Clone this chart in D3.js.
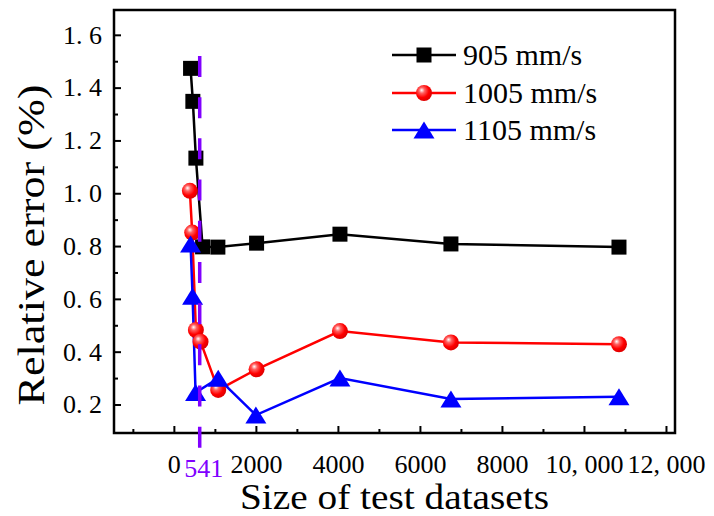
<!DOCTYPE html>
<html>
<head>
<meta charset="utf-8">
<script src="https://cdn.jsdelivr.net/npm/d3@7"></script>
<style>
  html, body { margin: 0; padding: 0; background: #fff; }
  svg { display: block; }
  text { font-family: "Liberation Serif", "Times New Roman", serif; }
</style>
</head>
<body>
<svg id="chart" width="714" height="516"></svg>
<script>
// ---- data ----
const x905  = [407, 463, 537, 700, 1073, 2017, 4050, 6756, 10854];
const y905  = [1.473, 1.348, 1.133, 0.797, 0.796, 0.811, 0.845, 0.808, 0.796];
const x1005 = [390, 447, 537, 650, 1081, 2017, 4050, 6756, 10854];
const y1005 = [1.009, 0.851, 0.482, 0.438, 0.255, 0.333, 0.478, 0.435, 0.428];
const x1105 = [407, 456, 529, 1081, 2000, 4050, 6756, 10854];
const y1105 = [0.808, 0.61, 0.245, 0.299, 0.16, 0.3, 0.221, 0.229];
const seriesNames = ["905 mm/s", "1005 mm/s", "1105 mm/s"];
const xMajorTicks = [0, 2000, 4000, 6000, 8000, 10000, 12000];
const xTickLabels = ["0", "2000", "4000", "6000", "8000", "10, 000", "12, 000"];
const xMinorTicks = [-1000, 1000, 3000, 5000, 7000, 9000, 11000];
const yMajorTicks = [0.2, 0.4, 0.6, 0.8, 1.0, 1.2, 1.4, 1.6];
const yTickLabels = ["0. 2", "0. 4", "0. 6", "0. 8", "1. 0", "1. 2", "1. 4", "1. 6"];
const yMinorTicks = [0.3, 0.5, 0.7, 0.9, 1.1, 1.3, 1.5];
const thresholdX = 630;          // position of dashed marker line as read
const thresholdLabel = "541";
const thresholdYExtent = [0.035, 1.52];
const xTitle = "Size of test datasets";
const yTitle = "Relative error (%)";

// ---- layout ----
const svg = d3.select("#chart");
const pLeft = 114, pRight = 675, pTop = 10, pBottom = 433;
const x = d3.scaleLinear().domain([-1460, 12220]).range([pLeft, pRight]);
const y = d3.scaleLinear().domain([0.092, 1.694]).range([pBottom, pTop]);

const defs = svg.append("defs");
const grad = defs.append("radialGradient").attr("id", "ball")
  .attr("cx", "40%").attr("cy", "38%").attr("r", "60%")
  .attr("fx", "35%").attr("fy", "32%");
grad.append("stop").attr("offset", "0%").attr("stop-color", "#ffffff");
grad.append("stop").attr("offset", "30%").attr("stop-color", "#ff6060");
grad.append("stop").attr("offset", "70%").attr("stop-color", "#ff0000");
grad.append("stop").attr("offset", "100%").attr("stop-color", "#e00000");

// ---- axes ----
const fontTick = "26px";
const xAxis = d3.axisBottom(x).tickValues(xMajorTicks)
  .tickFormat((d, i) => xTickLabels[i]).tickSize(-7).tickPadding(21.5);
const gx = svg.append("g").attr("transform", `translate(0,${pBottom})`).call(xAxis);
gx.select(".domain").remove();
gx.selectAll("line").attr("stroke", "#000").attr("stroke-width", 2);
gx.selectAll("text").attr("fill", "#000").style("font-size", fontTick)
  .style("font-family", "'Liberation Serif', serif");

const xMinor = d3.axisBottom(x).tickValues(xMinorTicks).tickFormat("").tickSize(-4);
const gxm = svg.append("g").attr("transform", `translate(0,${pBottom})`).call(xMinor);
gxm.select(".domain").remove();
gxm.selectAll("text").remove();
gxm.selectAll("line").attr("stroke", "#000").attr("stroke-width", 2);

const yAxis = d3.axisLeft(y).tickValues(yMajorTicks)
  .tickFormat((d, i) => yTickLabels[i]).tickSize(-7).tickPadding(12);
const gy = svg.append("g").attr("transform", `translate(${pLeft},0)`).call(yAxis);
gy.select(".domain").remove();
gy.selectAll("line").attr("stroke", "#000").attr("stroke-width", 2);
gy.selectAll("text").attr("fill", "#000").style("font-size", fontTick)
  .style("font-family", "'Liberation Serif', serif");

const yMinor = d3.axisLeft(y).tickValues(yMinorTicks).tickFormat("").tickSize(-4);
const gym = svg.append("g").attr("transform", `translate(${pLeft},0)`).call(yMinor);
gym.select(".domain").remove();
gym.selectAll("text").remove();
gym.selectAll("line").attr("stroke", "#000").attr("stroke-width", 2);

// frame
svg.append("rect").attr("x", pLeft).attr("y", pTop)
  .attr("width", pRight - pLeft).attr("height", pBottom - pTop)
  .attr("fill", "none").attr("stroke", "#000").attr("stroke-width", 2.5);

// titles
svg.append("text").attr("x", (pLeft + pRight) / 2).attr("y", 509)
  .attr("text-anchor", "middle").style("font-size", "36px")
  .attr("textLength", 309).attr("lengthAdjust", "spacingAndGlyphs")
  .text(xTitle);
svg.append("text").attr("transform", "translate(44,245) rotate(-90)")
  .attr("text-anchor", "middle").style("font-size", "38px")
  .attr("textLength", 321).attr("lengthAdjust", "spacingAndGlyphs")
  .text(yTitle);

// ---- series ----
const series = [
  { xs: x905, ys: y905, color: "#000000", marker: "square" },
  { xs: x1005, ys: y1005, color: "#ff0000", marker: "circle" },
  { xs: x1105, ys: y1105, color: "#0000ff", marker: "triangle" }
];
const line = d3.line().x(d => x(d[0])).y(d => y(d[1]));

function drawMarker(g, type, cx, cy, color) {
  if (type === "square") {
    g.append("rect").attr("x", cx - 7.5).attr("y", cy - 7.5)
      .attr("width", 15).attr("height", 15).attr("fill", color);
  } else if (type === "circle") {
    g.append("circle").attr("cx", cx).attr("cy", cy).attr("r", 8)
      .attr("fill", "url(#ball)");
  } else {
    const w = 21, h = 17;
    g.append("path")
      .attr("d", `M${cx},${cy - h / 2}L${cx + w / 2},${cy + h / 2}L${cx - w / 2},${cy + h / 2}Z`)
      .attr("fill", color);
  }
}

series.forEach(s => {
  const pts = s.xs.map((v, i) => [v, s.ys[i]]);
  svg.append("path").datum(pts).attr("d", line)
    .attr("fill", "none").attr("stroke", s.color).attr("stroke-width", 2.5);
});
series.forEach(s => {
  const g = svg.append("g");
  s.xs.forEach((v, i) => drawMarker(g, s.marker, x(v), y(s.ys[i]), s.color));
});

// dashed marker line
svg.append("line")
  .attr("x1", x(thresholdX)).attr("x2", x(thresholdX))
  .attr("y1", y(thresholdYExtent[1])).attr("y2", y(thresholdYExtent[0]))
  .attr("stroke", "#8000ff").attr("stroke-width", 3.5)
  .attr("stroke-dasharray", "21,20.2");
svg.append("text").attr("x", x(thresholdX) + 4).attr("y", 477)
  .attr("text-anchor", "middle").attr("fill", "#8000ff")
  .style("font-size", "26px").text(thresholdLabel);

// ---- legend ----
const legend = svg.append("g");
const legendY = [55, 93, 130];
series.forEach((s, i) => {
  const ly = legendY[i];
  legend.append("line").attr("x1", 392).attr("x2", 456).attr("y1", ly).attr("y2", ly)
    .attr("stroke", s.color).attr("stroke-width", 2.5);
  drawMarker(legend, s.marker, 424, ly, s.color);
  legend.append("text").attr("x", 463).attr("y", ly + 10)
    .style("font-size", "30px").attr("fill", "#000").text(seriesNames[i]);
});
</script>
</body>
</html>
